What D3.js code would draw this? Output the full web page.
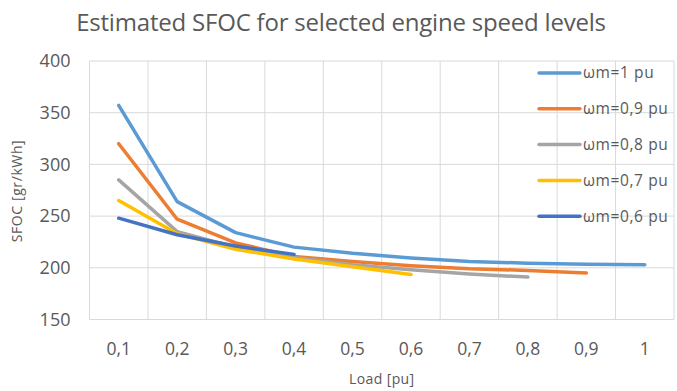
<!DOCTYPE html>
<html>
<head>
<meta charset="utf-8">
<script src="https://cdn.jsdelivr.net/npm/d3@7"></script>
<style>
  body { margin: 0; background: #fff; }
  text { font-family: "Open Sans", sans-serif; fill: #595959; }
</style>
</head>
<body>
<svg id="chart" width="677" height="391"></svg>
<script>
const loads = ['0,1', '0,2', '0,3', '0,4', '0,5', '0,6', '0,7', '0,8', '0,9', '1']
const yTicks = [150, 200, 250, 300, 350, 400]

// SFOC [gr/kWh] per load level, one array per engine speed
const w10 = [357, 264, 234, 220, 214, 209.5, 206, 204.5, 203.5, 203]
const w09 = [320, 247, 224, 211, 206, 202, 199, 197.5, 195]
const w08 = [285, 235, 220, 210, 203, 198, 194, 191]
const w07 = [265, 233, 218, 208.5, 201, 193.5]
const w06 = [248, 232, 221, 213]

const names = ['ωm=1 pu', 'ωm=0,9 pu', 'ωm=0,8 pu', 'ωm=0,7 pu', 'ωm=0,6 pu']
const colors = ['#5b9bd5', '#ed7d31', '#a5a5a5', '#ffc000', '#4472c4']
const series = [w10, w09, w08, w07, w06]

const margin = {top: 61, right: 3, bottom: 71.5, left: 89.5},
    width = 677 - margin.left - margin.right,
    height = 391 - margin.top - margin.bottom

const svg = d3.select('#chart')

svg.append('text')
    .attr('x', 341).attr('y', 31)
    .attr('text-anchor', 'middle')
    .style('font-size', '24px')
    .style('letter-spacing', '-0.2px')
    .text('Estimated SFOC for selected engine speed levels')

const g = svg.append('g')
    .attr('transform', 'translate(' + margin.left + ',' + margin.top + ')')

const x = d3.scaleBand().domain(loads).range([0, width])
const y = d3.scaleLinear().domain([150, 400]).range([height, 0])

// horizontal grid
g.selectAll('.hgrid').data(yTicks).enter().append('line')
    .attr('class', 'hgrid')
    .attr('x1', 0).attr('x2', width)
    .attr('y1', d => y(d)).attr('y2', d => y(d))
    .attr('stroke', '#d9d9d9').attr('stroke-width', 1)

// vertical grid on category boundaries
const bounds = loads.map(d => x(d)).concat([width])
g.selectAll('.vgrid').data(bounds).enter().append('line')
    .attr('class', 'vgrid')
    .attr('x1', d => d).attr('x2', d => d)
    .attr('y1', 0).attr('y2', height)
    .attr('stroke', '#d9d9d9').attr('stroke-width', 1)

// y axis labels
g.selectAll('.ylab').data(yTicks).enter().append('text')
    .attr('class', 'ylab')
    .attr('x', -19).attr('y', d => y(d))
    .attr('dy', '0.35em')
    .attr('text-anchor', 'end')
    .style('font-size', '18px')
    .text(d => d)

// x axis labels
g.selectAll('.xlab').data(loads).enter().append('text')
    .attr('class', 'xlab')
    .attr('x', d => x(d) + x.bandwidth() / 2)
    .attr('y', height + 29)
    .attr('dy', '0.35em')
    .attr('text-anchor', 'middle')
    .style('font-size', '17.5px')
    .text(d => d)

svg.append('text')
    .attr('transform', 'translate(22,191) rotate(-90)')
    .attr('text-anchor', 'middle')
    .style('font-size', '14px')
    .style('letter-spacing', '0.6px')
    .text('SFOC [gr/kWh]')

svg.append('text')
    .attr('x', margin.left + width / 2).attr('y', 384)
    .attr('text-anchor', 'middle')
    .style('font-size', '14px')
    .style('letter-spacing', '0.4px')
    .text('Load [pu]')

const line = d3.line()
    .x((d, i) => x(loads[i]) + x.bandwidth() / 2)
    .y(d => y(d))

g.selectAll('.series').data(series).enter().append('path')
    .attr('class', 'series')
    .attr('d', d => line(d))
    .attr('fill', 'none')
    .attr('stroke', (d, i) => colors[i])
    .attr('stroke-width', 3.5)
    .attr('stroke-linecap', 'round')
    .attr('stroke-linejoin', 'round')

// legend
const leg = svg.append('g').attr('transform', 'translate(539,73)')
const item = leg.selectAll('.item').data(names).enter().append('g')
    .attr('class', 'item')
    .attr('transform', (d, i) => 'translate(0,' + i * 35.8 + ')')
item.append('line')
    .attr('x1', 0).attr('x2', 41)
    .attr('stroke', (d, i) => colors[i])
    .attr('stroke-width', 3.5)
    .attr('stroke-linecap', 'round')
item.append('text')
    .attr('x', 44).attr('dy', '0.35em')
    .style('font-size', '15.5px')
    .style('letter-spacing', '0.6px')
    .text(d => d)
</script>
</body>
</html>
